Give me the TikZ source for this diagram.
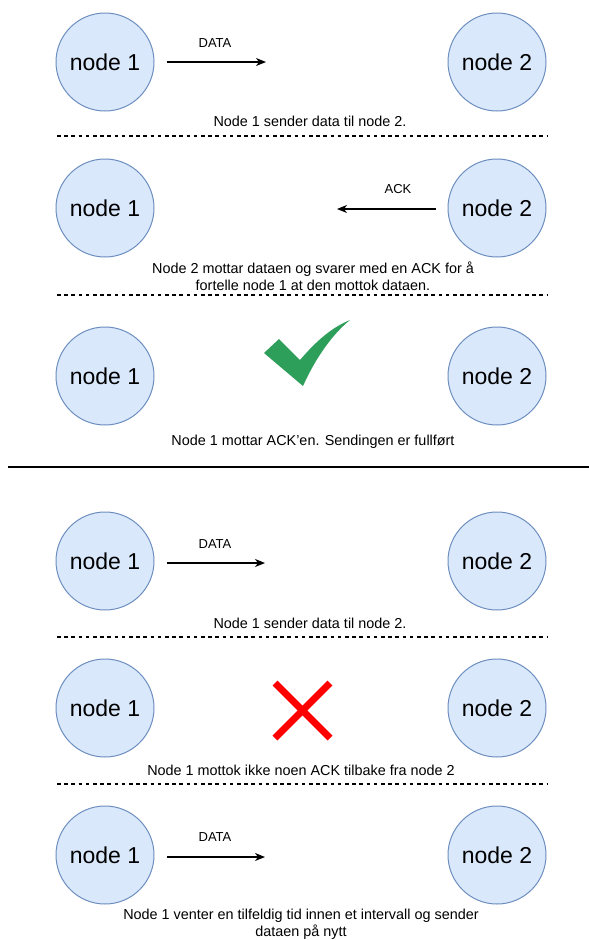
\documentclass[tikz,border=0pt]{standalone}
\usepackage{fontspec}
\setmainfont{Liberation Sans}
\usetikzlibrary{arrows.meta}
\definecolor{nodefill}{HTML}{DAE8FC}
\definecolor{nodeline}{HTML}{6C8EBF}
\definecolor{okgreen}{RGB}{46,158,91}
\definecolor{failred}{HTML}{FF0000}
\begin{document}
\begin{tikzpicture}[x=1pt,y=-1pt,
  peer/.style={circle,draw=nodeline,fill=nodefill,line width=1pt,minimum size=98pt,inner sep=0pt,
    font=\fontsize{23}{27}\selectfont},
  msg/.style={-{Stealth[length=10pt,width=8pt,inset=3pt]},line width=1.3pt},
  msglabel/.style={font=\fontsize{13}{15}\selectfont,inner sep=0pt},
  caption/.style={font=\fontsize{14.4}{17}\selectfont,align=center,inner sep=0pt},
  separator/.style={line width=1.1pt,dash pattern=on 3.6pt off 3.6pt},
  divider/.style={line width=1.6pt}]
\useasboundingbox (0,0) rectangle (589,940);

% --- successful transfer ---
% step 1: data is sent
\node[peer] (a1) at (105,62) {node 1};
\node[peer] (b1) at (497,62) {node 2};
\coordinate (s1) at (167,62);
\coordinate (e1) at (266,62);
\draw[msg] (s1) -- (e1);
\node[msglabel] (l1) at (215,43) {DATA};
\node[caption] (c1) at (310,121) {Node 1 sender data til node 2.};
\draw[separator] (57,136) -- (547,136);

% step 2: acknowledgement comes back
\node[peer] (a2) at (105,208) {node 1};
\node[peer] (b2) at (497,208) {node 2};
\coordinate (s2) at (436,209);
\coordinate (e2) at (337,209);
\draw[msg] (s2) -- (e2);
\node[msglabel] (l2) at (398,189) {ACK};
\node[caption] (c2) at (313,276) {Node 2 mottar dataen og svarer med en ACK for å\\fortelle node 1 at den mottok dataen.};
\draw[separator] (57,295) -- (547,295);

% step 3: transfer complete
\node[peer] (a3) at (105,376) {node 1};
\node[peer] (b3) at (497,376) {node 2};
\fill[okgreen] (264,353) -- (279,339) -- (300,360)
  .. controls (318,339) and (333,327) .. (350,320)
  .. controls (334,333) and (317,355) .. (303,386) -- cycle;
\node[caption] (c3) at (313,442) {Node 1 mottar ACK'en. Sendingen er fullført};

\draw[divider] (8,467) -- (589,467);

% --- lost acknowledgement ---
% step 1: data is sent
\node[peer] (a4) at (105,561) {node 1};
\node[peer] (b4) at (497,561) {node 2};
\coordinate (s4) at (167,563);
\coordinate (e4) at (265,563);
\draw[msg] (s4) -- (e4);
\node[msglabel] (l4) at (215,544) {DATA};
\node[caption] (c4) at (310,623) {Node 1 sender data til node 2.};
\draw[separator] (57,637) -- (547,637);

% step 2: no acknowledgement arrives
\node[peer] (a5) at (105,708) {node 1};
\node[peer] (b5) at (497,708) {node 2};
\draw[failred,line width=7pt] (275,683) -- (330,738);
\draw[failred,line width=7pt] (330,683) -- (275,738);
\node[caption] (c5) at (301,770) {Node 1 mottok ikke noen ACK tilbake fra node 2};
\draw[separator] (57,784) -- (547,784);

% step 3: retransmission after a random wait
\node[peer] (a6) at (105,855) {node 1};
\node[peer] (b6) at (497,855) {node 2};
\coordinate (s6) at (167,857);
\coordinate (e6) at (265,857);
\draw[msg] (s6) -- (e6);
\node[msglabel] (l6) at (215,837) {DATA};
\node[caption] (c6) at (301,924) {Node 1 venter en tilfeldig tid innen et intervall og sender\\dataen på nytt};
\end{tikzpicture}
\end{document}
